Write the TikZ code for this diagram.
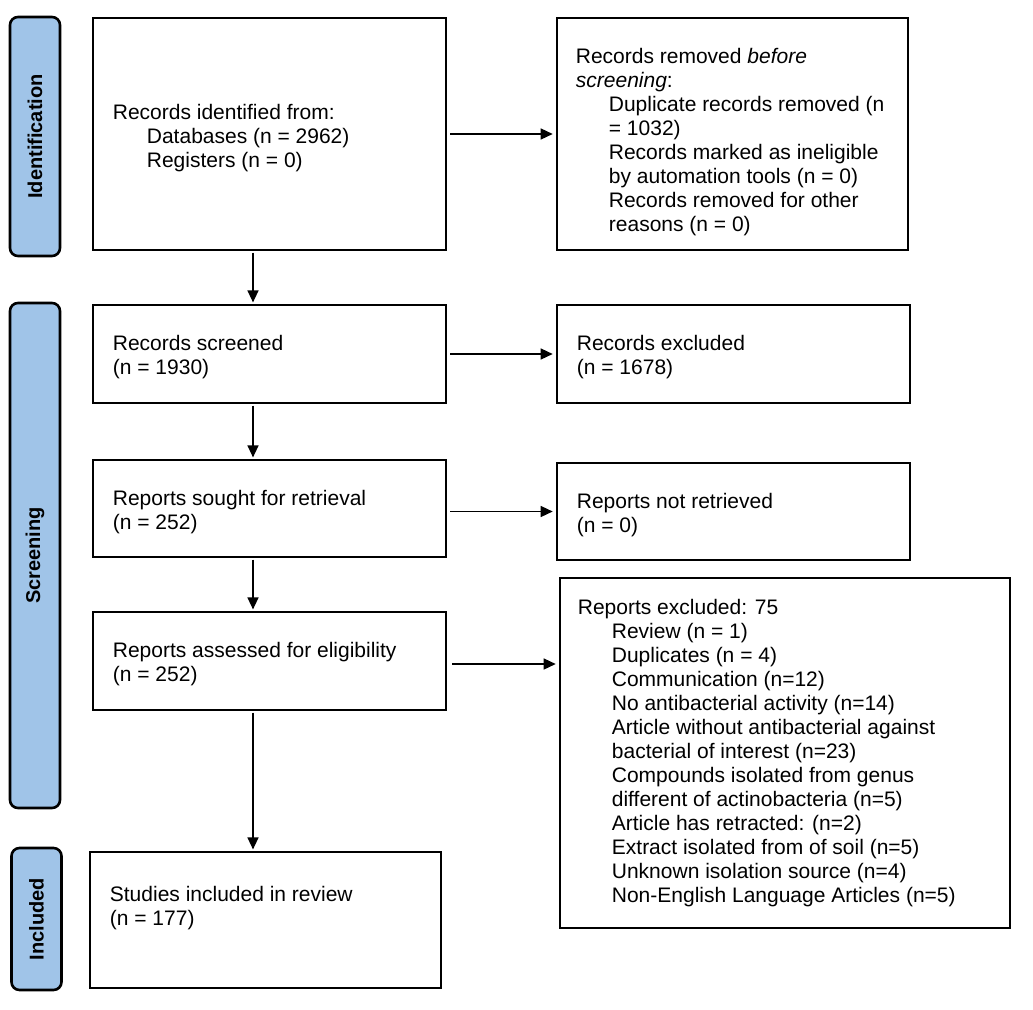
\documentclass[tikz,border=0pt]{standalone}
\usepackage{fontspec}
\setmainfont{Liberation Sans}
\usetikzlibrary{arrows.meta,calc}
\definecolor{sideblue}{RGB}{160,196,232}
\newcommand{\myboxfont}{\fontsize{21}{24}\selectfont}
\newcommand{\mysidefont}{\fontsize{20}{22}\selectfont\bfseries}
\newcommand{\ind}{\hspace*{34pt}}
\begin{document}
\begin{tikzpicture}[x=1pt,y=-1pt,
  flowbox/.style={draw, line width=2.6pt, rectangle, inner sep=0pt},
  boxtext/.style={inner sep=0pt, align=left, anchor=west, font=\myboxfont},
  sidebox/.style={draw, line width=2.6pt, rounded corners=8pt, fill=sideblue, inner sep=0pt, minimum width=50pt, font=\mysidefont},
  conn/.style={line width=1.4pt, -{Triangle[length=12pt,width=11pt]}}
]
\useasboundingbox (0,0) rectangle (1033,1009);

% side labels
\node[sidebox, minimum height=239pt] (sid) at (35,136.5) {\rotatebox{90}{Identification}};
\node[sidebox, minimum height=505pt] (sscr) at (35,555.5) {\rotatebox{90}{Screening}};
\node[sidebox, minimum height=142pt] (sinc) at (36.5,919) {\rotatebox{90}{Included}};

% main boxes
\node[flowbox, minimum width=353pt, minimum height=232pt] (A) at (269.5,134) {};
\node[flowbox, minimum width=351pt, minimum height=232pt] (B) at (732.5,134) {};
\node[flowbox, minimum width=353pt, minimum height=98pt] (C) at (269.5,354) {};
\node[flowbox, minimum width=353pt, minimum height=98pt] (D) at (733.5,354) {};
\node[flowbox, minimum width=353pt, minimum height=97pt] (E) at (269.5,508.5) {};
\node[flowbox, minimum width=353pt, minimum height=97pt] (F) at (733.5,511.5) {};
\node[flowbox, minimum width=353pt, minimum height=98pt] (G) at (269.5,661) {};
\node[flowbox, minimum width=450pt, minimum height=350pt] (H) at (785,753) {};
\node[flowbox, minimum width=351pt, minimum height=136pt] (I) at (265.5,920) {};

% box texts
\node[boxtext] (At) at ($(A.west)+(21,4)$)
  {Records identified from:\\ \ind Databases (n = 2962)\\ \ind Registers (n = 0)};
\node[boxtext] (Bt) at ($(B.west)+(20,8)$)
  {Records removed \textit{before}\\ \textit{screening}:\\
   \hspace*{33pt}Duplicate records removed (n\\ \hspace*{33pt}= 1032)\\
   \hspace*{33pt}Records marked as ineligible\\ \hspace*{33pt}by automation tools (n = 0)\\
   \hspace*{33pt}Records removed for other\\ \hspace*{33pt}reasons (n = 0)};
\node[boxtext] (Ct) at ($(C.west)+(21,3)$) {Records screened\\(n = 1930)};
\node[boxtext] (Dt) at ($(D.west)+(21,3)$) {Records excluded\\(n = 1678)};
\node[boxtext] (Et) at ($(E.west)+(21,4)$) {Reports sought for retrieval\\(n = 252)};
\node[boxtext] (Ft) at ($(F.west)+(21,4)$) {Reports not retrieved\\(n = 0)};
\node[boxtext] (Gt) at ($(G.west)+(21,3)$) {Reports assessed for eligibility\\(n = 252)};
\node[boxtext] (Ht) at ($(H.west)+(19,0)$)
  {Reports excluded: 75\\
   \ind Review (n = 1)\\
   \ind Duplicates (n = 4)\\
   \ind Communication (n=12)\\
   \ind No antibacterial activity (n=14)\\
   \ind Article without antibacterial against\\
   \ind bacterial of interest (n=23)\\
   \ind Compounds isolated from genus\\
   \ind different of actinobacteria (n=5)\\
   \ind Article has retracted: (n=2)\\
   \ind Extract isolated from of soil (n=5)\\
   \ind Unknown isolation source (n=4)\\
   \ind Non-English Language Articles (n=5)};
\node[boxtext] (It) at ($(I.west)+(21,-12)$) {Studies included in review\\(n = 177)};

% connectors
\coordinate (sx) at (253,0);
\draw[conn, shorten <=3pt, shorten >=3pt] (A.east) -- (B.west);
\draw[conn, shorten <=3pt, shorten >=3pt] (C.east) -- (D.west);
\draw[conn, shorten <=3pt, shorten >=3pt] (E.east |- F.west) -- (F.west);
\draw[conn, shorten <=5pt, shorten >=3pt] ($(G.east)+(0,3)$) -- ($(G.east -| H.west)+(0,3)$);
\draw[conn, shorten <=1.3pt, shorten >=1.3pt] (A.south -| sx) -- (C.north -| sx);
\draw[conn, shorten <=1.3pt, shorten >=1.3pt] (C.south -| sx) -- (E.north -| sx);
\draw[conn, shorten <=1.3pt, shorten >=1.3pt] (E.south -| sx) -- (G.north -| sx);
\draw[conn, shorten <=1.3pt, shorten >=1.3pt] (G.south -| sx) -- (I.north -| sx);
\end{tikzpicture}
\end{document}
